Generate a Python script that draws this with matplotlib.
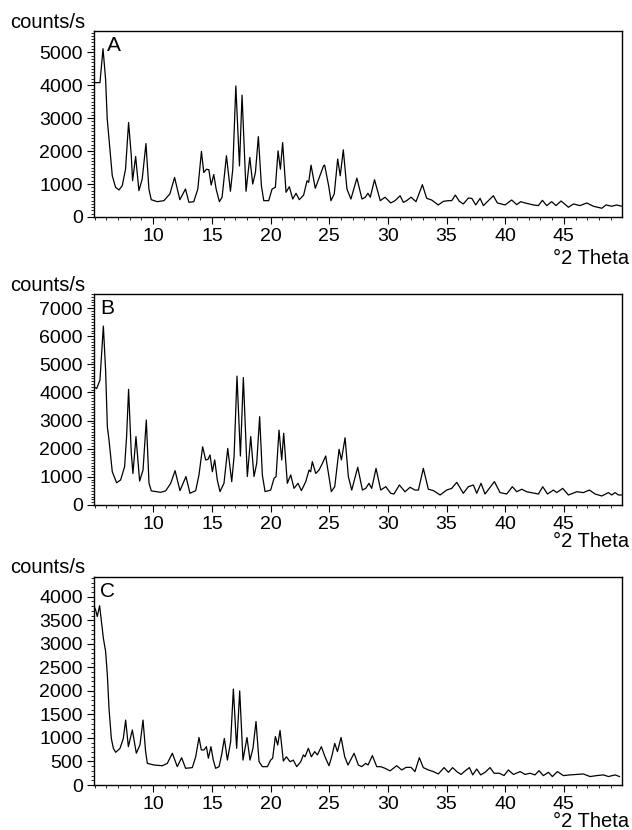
import matplotlib
matplotlib.use("Agg")
import matplotlib.pyplot as plt
from matplotlib.ticker import MultipleLocator

plt.rcParams['font.family'] = ['Liberation Sans', 'DejaVu Sans']

# pattern A (deg 2theta, counts/s)
a_theta = [4.95, 5.46, 5.72, 5.94, 6.08, 6.23, 6.51, 6.79, 7.08, 7.36, 7.64, 7.90, 8.13, 8.24, 8.50,
           8.78, 9.06, 9.38, 9.63, 9.83, 10.34, 10.91, 11.42, 11.82, 12.27, 12.75, 13.04, 13.46, 13.80,
           14.11, 14.31, 14.54, 14.74, 14.94, 15.16, 15.36, 15.64, 15.87, 16.24, 16.58, 16.78, 17.04,
           17.35, 17.57, 17.91, 18.23, 18.48, 18.71, 18.96, 19.22, 19.42, 19.84, 20.13, 20.41, 20.64,
           20.84, 21.03, 21.32, 21.60, 21.89, 22.17, 22.45, 22.82, 23.11, 23.25, 23.45, 23.81, 24.10,
           24.52, 24.61, 24.95, 25.15, 25.43, 25.72, 25.94, 26.20, 26.51, 26.85, 27.36, 27.79, 28.07,
           28.30, 28.50, 28.86, 29.35, 29.76, 30.24, 30.61, 31.04, 31.32, 31.60, 31.97, 32.40, 32.94,
           33.31, 33.73, 34.30, 34.73, 35.16, 35.44, 35.75, 36.09, 36.43, 36.86, 37.15, 37.49, 37.86,
           38.14, 38.57, 38.99, 39.33, 39.99, 40.55, 40.98, 41.32, 41.69, 42.40, 42.83, 43.17, 43.54,
           43.96, 44.33, 44.76, 45.39, 45.81, 46.38, 46.95, 47.52, 48.23, 48.60, 49.08, 49.51, 49.93]
a_counts = [4080, 4080, 5110, 4180, 2970, 2360, 1250, 900, 820, 950, 1450, 2870, 1860, 1100, 1840,
            800, 1150, 2230, 850, 525, 465, 495, 700, 1200, 525, 850, 445, 465, 850,
            1990, 1350, 1450, 1435, 970, 1290, 850, 465, 600, 1860, 780, 1450, 3980,
            1550, 3700, 780, 1810, 1000, 1350, 2440, 950, 495, 495, 850, 900, 2010,
            1450, 2260, 750, 920, 545, 720, 525, 665, 1100, 1050, 1575, 870, 1150,
            1555, 1575, 950, 495, 700, 1760, 1250, 2040, 850, 545, 1180, 545, 600,
            720, 600, 1130, 495, 600, 425, 495, 645, 445, 495, 600, 465, 980,
            565, 515, 365, 475, 495, 495, 665, 475, 395, 575, 565, 365, 565,
            345, 495, 645, 425, 365, 515, 375, 465, 425, 365, 345, 505, 345,
            465, 345, 485, 295, 395, 345, 425, 325, 265, 365, 325, 365, 325]

# pattern B
b_theta = [4.95, 5.18, 5.46, 5.75, 5.94, 6.09, 6.23, 6.51, 6.88, 7.22, 7.56, 7.73, 7.90, 8.13, 8.27,
           8.53, 8.84, 9.13, 9.41, 9.64, 9.84, 10.63, 11.06, 11.49, 11.86, 12.28, 12.79, 13.13, 13.62,
           13.90, 14.21, 14.47, 14.67, 14.84, 15.04, 15.24, 15.46, 15.69, 16.03, 16.35, 16.69, 16.89,
           17.14, 17.43, 17.68, 18.02, 18.31, 18.59, 18.82, 19.07, 19.30, 19.53, 20.01, 20.30, 20.47,
           20.72, 20.95, 21.12, 21.43, 21.72, 22.00, 22.34, 22.63, 23.00, 23.28, 23.42, 23.56, 23.85,
           24.13, 24.42, 24.70, 24.98, 25.18, 25.47, 25.84, 26.04, 26.35, 26.63, 26.92, 27.43, 27.83,
           28.11, 28.39, 28.62, 28.99, 29.39, 29.82, 30.24, 30.52, 30.98, 31.46, 31.89, 32.31, 32.60,
           33.02, 33.45, 33.88, 34.45, 35.01, 35.44, 35.87, 36.43, 36.86, 37.29, 37.57, 37.94, 38.28,
           39.08, 39.56, 40.13, 40.61, 40.98, 41.41, 41.83, 42.54, 42.83, 43.20, 43.60, 44.11, 44.39,
           44.90, 45.39, 46.10, 46.66, 47.18, 47.66, 48.23, 48.80, 49.08, 49.36, 49.65, 49.93]
b_counts = [4200, 4140, 4440, 6360, 4800, 2780, 2310, 1180, 790, 890, 1360, 2430, 4110, 1840, 1120,
            2430, 850, 1240, 3020, 770, 500, 450, 500, 770, 1220, 510, 1010, 415, 510,
            1070, 2070, 1600, 1620, 1780, 1180, 1600, 890, 475, 770, 2010, 830, 1720,
            4580, 1740, 4530, 1010, 2430, 1010, 1480, 3140, 1070, 475, 530, 950, 1010,
            2660, 1600, 2550, 770, 1070, 590, 770, 510, 830, 1240, 1180, 1540, 1120,
            1240, 1480, 1740, 1010, 475, 650, 1980, 1600, 2390, 1010, 530, 1340, 530,
            590, 770, 590, 1300, 530, 650, 415, 390, 710, 470, 630, 530, 530,
            1300, 560, 510, 355, 530, 590, 805, 415, 650, 710, 415, 770, 390,
            830, 440, 390, 650, 470, 560, 470, 415, 390, 650, 390, 530, 440,
            590, 355, 470, 440, 530, 390, 320, 440, 355, 440, 355, 355]

# pattern C
c_theta = [4.95, 5.09, 5.23, 5.35, 5.43, 5.52, 5.75, 5.94, 6.09, 6.23, 6.43, 6.60, 6.80, 7.17, 7.45,
           7.65, 7.88, 8.22, 8.56, 8.87, 9.13, 9.35, 9.50, 10.07, 10.78, 11.20, 11.63, 12.05, 12.42,
           12.76, 13.33, 13.62, 13.90, 14.10, 14.33, 14.53, 14.70, 14.92, 15.12, 15.32, 15.61, 15.83,
           16.06, 16.32, 16.60, 16.83, 17.11, 17.37, 17.65, 17.99, 18.25, 18.50, 18.76, 19.02, 19.30,
           19.73, 20.01, 20.18, 20.41, 20.61, 20.81, 21.09, 21.35, 21.66, 21.94, 22.23, 22.57, 22.80,
           22.94, 23.22, 23.48, 23.76, 23.99, 24.33, 24.64, 24.98, 25.21, 25.47, 25.70, 26.01, 26.32,
           26.60, 27.12, 27.48, 27.77, 28.11, 28.31, 28.68, 29.05, 29.39, 29.76, 30.18, 30.75, 31.18,
           31.55, 31.97, 32.31, 32.68, 33.02, 33.45, 33.88, 34.30, 34.79, 35.16, 35.52, 35.87, 36.24,
           36.58, 36.95, 37.23, 37.57, 37.91, 38.28, 38.71, 39.05, 39.50, 39.90, 40.27, 40.70, 41.27,
           41.69, 42.12, 42.54, 42.88, 43.25, 43.68, 44.02, 44.45, 44.96, 45.53, 46.10, 46.66, 47.23,
           47.80, 48.37, 48.80, 49.37, 49.74]
c_counts = [3810, 3720, 3580, 3720, 3810, 3620, 3120, 2840, 2340, 1630, 990, 780, 695, 780, 990,
            1380, 815, 1170, 675, 850, 1380, 710, 460, 425, 410, 460, 675, 390, 580,
            355, 370, 600, 1010, 745, 745, 815, 570, 815, 530, 355, 390, 640,
            990, 530, 920, 2040, 780, 2000, 530, 1010, 530, 780, 1350, 495, 390,
            390, 530, 570, 1030, 850, 1160, 510, 600, 495, 530, 390, 495, 640,
            600, 780, 600, 710, 640, 815, 600, 410, 600, 885, 710, 1010, 600,
            425, 675, 425, 390, 460, 425, 625, 390, 390, 355, 300, 410, 320,
            375, 375, 285, 580, 370, 320, 285, 235, 370, 270, 370, 285, 225,
            300, 370, 215, 340, 215, 270, 370, 250, 250, 200, 320, 225, 285,
            225, 250, 215, 305, 200, 270, 180, 285, 200, 215, 225, 235, 180,
            200, 215, 180, 215, 180]

panels = [
    ("A", a_theta, a_counts, 5650, 1000, [0.1487, 0.7386, 0.8354, 0.2241], 1 - 28 / 830, 1 - 264 / 830),
    ("B", b_theta, b_counts, 7500, 1000, [0.1487, 0.3916, 0.8354, 0.2542], 1 - 291 / 830, 1 - 547 / 830),
    ("C", c_theta, c_counts, 4420, 500, [0.1487, 0.0542, 0.8354, 0.2506], 1 - 573 / 830, 1 - 827 / 830),
]

fig = plt.figure(figsize=(6.32, 8.30), dpi=100)

for name, th, cts, ytop, ystep, rect, ylab_y, xlab_y in panels:
    ax = fig.add_axes(rect)
    ax.plot(th, cts, color='black', lw=0.9)
    ax.set_xlim(4.95, 49.95)
    ax.set_ylim(0, ytop)
    ax.xaxis.set_major_locator(MultipleLocator(5))
    ax.xaxis.set_minor_locator(MultipleLocator(1))
    ax.yaxis.set_major_locator(MultipleLocator(ystep))
    ax.yaxis.set_minor_locator(MultipleLocator(100))
    ax.set_xticks([10, 15, 20, 25, 30, 35, 40, 45])
    ax.tick_params(which='major', direction='out', length=5, width=0.8, labelsize=14, pad=3)
    ax.tick_params(which='minor', direction='out', length=2.5, width=0.6)
    for sp in ax.spines.values():
        sp.set_linewidth(1.0)
    ax.text(0.012 if name != "A" else 0.025, 0.975, name, transform=ax.transAxes,
            ha='left', va='top', fontsize=15)
    fig.text(10 / 632, ylab_y, "counts/s", ha='left', va='baseline', fontsize=14.5)
    fig.text(629 / 632, xlab_y, "°2 Theta", ha='right', va='baseline', fontsize=14.5)

fig.savefig("out.png", dpi=100)
